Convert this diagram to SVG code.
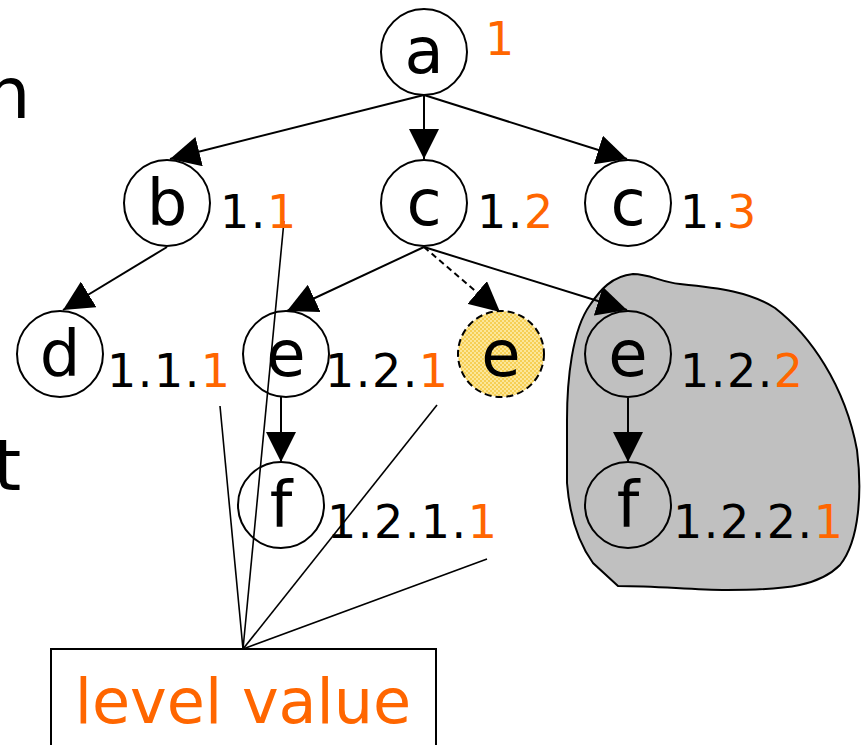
<svg xmlns="http://www.w3.org/2000/svg" width="865" height="745" viewBox="0 0 865 745">
<style>
.node circle{fill:none;stroke:#000;stroke-width:2}
.lt{font-family:"DejaVu Sans",Verdana,sans-serif;font-size:64px;text-anchor:middle;fill:#000}
.lbl{font-family:"DejaVu Sans",Verdana,sans-serif;font-size:46px;letter-spacing:1.5px;fill:#000}
.or{fill:#FF6600}
.edge{stroke:#000;stroke-width:2;fill:none;marker-end:url(#ah)}
.ptr{stroke:#000;stroke-width:1.6;fill:none}
</style>
<defs>
<marker id="ah" markerUnits="userSpaceOnUse" markerWidth="30" markerHeight="30" viewBox="0 0 28 28" refX="28" refY="14" orient="auto">
<path d="M0,0 L28,14 L0,28 Z" fill="#000"/>
</marker>
<pattern id="dith" width="4" height="4" patternUnits="userSpaceOnUse">
<rect width="4" height="4" fill="#FCE79A"/>
<rect width="2" height="2" fill="#F6CF55"/>
<rect x="2" y="2" width="2" height="2" fill="#F6CF55"/>
</pattern>
</defs>
<rect width="865" height="745" fill="#fff"/>
<text x="-15" y="118" font-family="DejaVu Sans,Verdana,sans-serif" font-size="72">n</text>
<text x="-7" y="490" font-family="DejaVu Sans,Verdana,sans-serif" font-size="72">t</text>
<g id="region">
<path d="M618,586 L593,563 C580,545 570,520 567,483 L567,420 C567,380 572,330 590,305 C600,290 612,276 633,274 C650,274 660,282 680,284 C720,288 750,292 775,308 C810,335 845,385 857,450 C862,490 860,540 840,565 C820,585 790,590 727,590 C690,590 660,586 618,586 Z" fill="#C0C0C0" stroke="#000" stroke-width="2"/>
</g>
<g id="connectors">
<line class="edge" x1="424" y1="95" x2="170" y2="159"/>
<line class="edge" x1="424" y1="95" x2="424" y2="159"/>
<line class="edge" x1="424" y1="95" x2="627" y2="159"/>
<line class="edge" x1="167" y1="247" x2="63" y2="310"/>
<line class="edge" x1="424" y1="247" x2="287" y2="311"/>
<line class="edge" x1="424" y1="247" x2="500" y2="312" stroke-dasharray="6,4"/>
<line class="edge" x1="424" y1="247" x2="627" y2="310"/>
<line class="edge" x1="281" y1="397" x2="281" y2="462"/>
<line class="edge" x1="628" y1="398" x2="628" y2="462"/>
<line class="ptr" x1="243" y1="649" x2="220" y2="406"/>
<line class="ptr" x1="243" y1="649" x2="284" y2="221"/>
<line class="ptr" x1="243" y1="649" x2="437" y2="405"/>
<line class="ptr" x1="243" y1="649" x2="487" y2="559"/>
</g>
<g id="node-a" class="node">
<circle cx="424" cy="52" r="43"/>
<text class="lt" x="424" y="73">a</text>
<text class="lbl or" x="485" y="55">1</text>
</g>
<g id="node-b" class="node">
<circle cx="167" cy="203" r="43"/>
<text class="lt" x="167" y="225">b</text>
<text class="lbl" x="220" y="228">1.<tspan class="or">1</tspan></text>
</g>
<g id="node-c" class="node">
<circle cx="424" cy="203" r="43"/>
<text class="lt" x="424" y="225">c</text>
<text class="lbl" x="477" y="228">1.<tspan class="or">2</tspan></text>
</g>
<g id="node-c3" class="node">
<circle cx="628" cy="203" r="43"/>
<text class="lt" x="628" y="225">c</text>
<text class="lbl" x="680" y="228">1.<tspan class="or">3</tspan></text>
</g>
<g id="node-d" class="node">
<circle cx="60" cy="354" r="43"/>
<text class="lt" x="60" y="376">d</text>
<text class="lbl" x="107" y="387">1.1.<tspan class="or">1</tspan></text>
</g>
<g id="node-e1" class="node">
<circle cx="286" cy="354" r="43"/>
<text class="lt" x="286" y="376">e</text>
<text class="lbl" x="325" y="387">1.2.<tspan class="or">1</tspan></text>
</g>
<g id="node-e-dup" class="node">
<circle cx="501" cy="354" r="43" style="fill:url(#dith);stroke-dasharray:7,4"/>
<text class="lt" x="501" y="376">e</text>
</g>
<g id="node-e2" class="node">
<circle cx="628" cy="354" r="43"/>
<text class="lt" x="628" y="376">e</text>
<text class="lbl" x="680" y="387">1.2.<tspan class="or">2</tspan></text>
</g>
<g id="node-f1" class="node">
<circle cx="281" cy="505" r="43"/>
<text class="lt" x="281" y="527">f</text>
<text class="lbl" x="327" y="538">1.2.1.<tspan class="or">1</tspan></text>
</g>
<g id="node-f2" class="node">
<circle cx="628" cy="505" r="43"/>
<text class="lt" x="628" y="527">f</text>
<text class="lbl" x="673" y="538">1.2.2.<tspan class="or">1</tspan></text>
</g>
<g id="node-level">
<rect x="51" y="649" width="385" height="120" fill="#fff" stroke="#000" stroke-width="2"/>
<text x="243" y="723" font-family="DejaVu Sans,Verdana,sans-serif" font-size="62" text-anchor="middle" fill="#FF6600">level value</text>
</g>
</svg>
